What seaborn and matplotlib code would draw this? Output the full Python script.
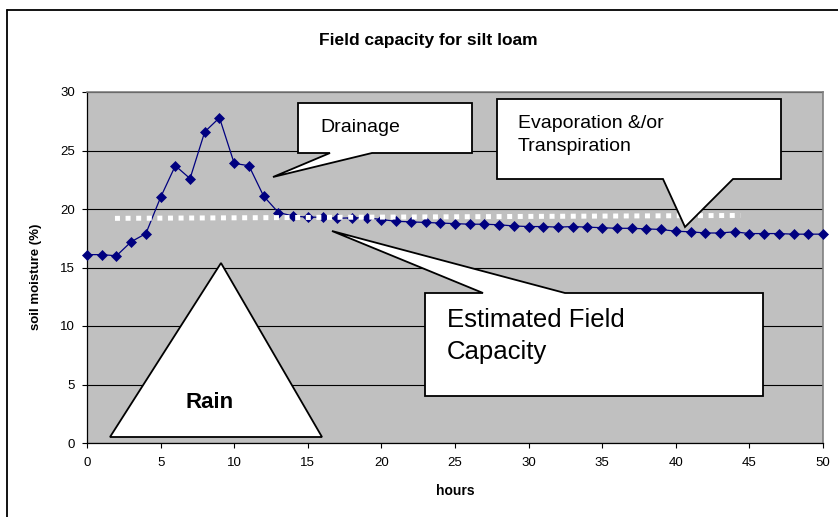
import matplotlib
matplotlib.use("Agg")
import matplotlib.pyplot as plt
import matplotlib.transforms as mtransforms
from matplotlib.patches import Polygon
from matplotlib.lines import Line2D
import pandas as pd
import seaborn as sns

# ---------------- data ----------------
hours = list(range(51))
soil_moisture = [16.1, 16.1, 16.0, 17.2, 17.9, 21.0, 23.7, 22.6, 26.6, 27.8,
                 23.9, 23.7, 21.1, 19.7, 19.4, 19.3, 19.3, 19.2, 19.25, 19.25,
                 19.1, 18.95, 18.9, 18.85, 18.8, 18.75, 18.7, 18.7, 18.65, 18.55,
                 18.5, 18.5, 18.45, 18.5, 18.45, 18.4, 18.35, 18.35, 18.3, 18.25,
                 18.1, 18.05, 17.95, 17.95, 18.05, 17.9, 17.9, 17.9, 17.85, 17.85,
                 17.85]
fc_hours = [1.9, 44.4]
fc_values = [19.2, 19.45]
x_ticks = [0, 5, 10, 15, 20, 25, 30, 35, 40, 45, 50]
y_ticks = [0, 5, 10, 15, 20, 25, 30]

title_text = "Field capacity for silt loam"
x_label = "hours"
y_label = "soil moisture (%)"
callout_drainage = "Drainage"
callout_evap = "Evaporation &/or\nTranspiration"
callout_fc = "Estimated Field\nCapacity"
rain_label = "Rain"

# ---------------- style ----------------
sns.set_style("white")
plt.rcParams["font.family"] = ["Liberation Sans", "DejaVu Sans"]
plt.rcParams["text.color"] = "black"
plt.rcParams["axes.labelcolor"] = "black"
plt.rcParams["xtick.color"] = "black"
plt.rcParams["ytick.color"] = "black"

NAVY = "#000080"
PLOT_BG = "#C0C0C0"

W, H = 838, 517
L, R, T, B = 87, 823, 92, 443

fig = plt.figure(figsize=(W / 100, H / 100), dpi=100)
fig.patch.set_facecolor("white")
ax = fig.add_axes([L / W, 1 - B / H, (R - L) / W, (B - T) / H])
ax.set_facecolor(PLOT_BG)

# pixel (top-left origin) transform for annotation shapes
pix = mtransforms.Affine2D().scale(1 / W, -1 / H).translate(0, 1) + fig.transFigure

# ---------------- series ----------------
df = pd.DataFrame({"hours": hours, "soil": soil_moisture})
fc = pd.DataFrame({"hours": fc_hours, "fc": fc_values})

sns.lineplot(data=df, x="hours", y="soil", ax=ax, color=NAVY, lw=0.9,
             marker="D", markersize=5.6, markeredgecolor=NAVY,
             markeredgewidth=0.5, clip_on=False, zorder=4)
sns.lineplot(data=fc, x="hours", y="fc", ax=ax, color="white", lw=3.6,
             linestyle=(0, (1, 1.12)), zorder=5)

# ---------------- axes ----------------
ax.set_xlim(0, 50)
ax.set_ylim(0, 30)
ax.set_xticks(x_ticks)
ax.set_yticks(y_ticks)
ax.yaxis.grid(True, color="black", lw=0.8)
ax.xaxis.grid(False)
ax.set_axisbelow(True)
ax.tick_params(axis="both", which="major", direction="out", length=3.8,
               width=0.8, color="black", labelcolor="black", labelsize=9.5,
               bottom=True, left=True)
ax.tick_params(axis="x", pad=6)
ax.tick_params(axis="y", pad=5)
for s in ("left", "bottom"):
    ax.spines[s].set_color("black")
    ax.spines[s].set_linewidth(0.9)
for s in ("top", "right"):
    ax.spines[s].set_color("#808080")
    ax.spines[s].set_linewidth(1.2)

ax.set_xlabel(x_label, fontweight="bold", fontsize=10, color="black")
ax.xaxis.label.set_va("center")
ax.xaxis.set_label_coords((455 - L) / (R - L), (B - 491) / (B - T))
ax.set_ylabel(y_label, fontweight="bold", fontsize=9.5, color="black")
ax.yaxis.label.set_va("center")
ax.yaxis.label.set_ha("center")
ax.yaxis.set_label_coords((36 - L) / (R - L), (B - 277) / (B - T))

ax.set_title(title_text, fontweight="bold", fontsize=12.5, color="black",
             x=(428 - L) / (R - L), y=(B - 40) / (B - T), pad=0, va="center")

# ---------------- callouts ----------------
def callout(points):
    p = Polygon(points, closed=True, facecolor="white", edgecolor="black",
                lw=1.3, transform=pix, clip_on=False, zorder=6,
                joinstyle="miter")
    ax.add_patch(p)

callout([(298, 103), (472, 103), (472, 153), (372, 153), (273, 177),
         (330, 153), (298, 153)])
callout([(497, 99), (781, 99), (781, 179), (733, 179), (685, 227),
         (663, 179), (497, 179)])
callout([(425, 293), (483, 293), (332, 231), (565, 293), (763, 293),
         (763, 396), (425, 396)])
callout([(221, 263), (322, 437), (110, 437)])

ax.text(320, 128, callout_drainage, transform=pix, fontsize=14,
        ha="left", va="center", color="black", zorder=7)
ax.text(518, 135, callout_evap, transform=pix, fontsize=14,
        ha="left", va="center", linespacing=1.42, color="black", zorder=7)
ax.text(447, 336, callout_fc, transform=pix, fontsize=18.5,
        ha="left", va="center", linespacing=1.4, color="black", zorder=7)
ax.text(210, 403, rain_label, transform=pix, fontsize=16, fontweight="bold",
        ha="center", va="center", color="black", zorder=7)

# ---------------- chart border ----------------
fig.add_artist(Line2D([7, 7], [10, H + 10], transform=pix, color="black", lw=1.3))
fig.add_artist(Line2D([7, W + 10], [10, 10], transform=pix, color="black", lw=1.3))

fig.savefig("out.png", dpi=100)
